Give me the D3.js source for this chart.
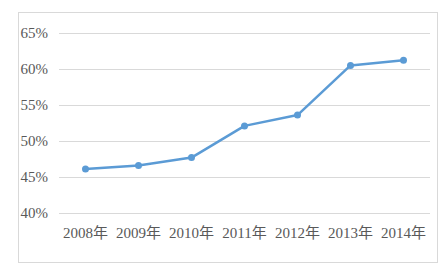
<!DOCTYPE html>
<html>
<head>
<meta charset="UTF-8">
<style>
  body { margin: 0; background: #fff; }
  svg text { font-family: "Liberation Serif", "Noto Sans CJK SC", serif; font-size: 15px; fill: #595959; }
</style>
</head>
<body>
<div id="chart"></div>
<script src="https://cdnjs.cloudflare.com/ajax/libs/d3/7.8.5/d3.min.js"></script>
<script>
const years = ['2008年', '2009年', '2010年', '2011年', '2012年', '2013年', '2014年'];
const rates = [46.1, 46.6, 47.7, 52.1, 53.6, 60.5, 61.2];
const yTicks = [40, 45, 50, 55, 60, 65];

const W = 446, H = 269;
const svg = d3.select('#chart').append('svg')
  .attr('width', W).attr('height', H);

// outer frame
svg.append('rect')
  .attr('x', 18.5).attr('y', 12.5)
  .attr('width', 419).attr('height', 250)
  .attr('fill', 'none').attr('stroke', '#d9d9d9');

const x = d3.scalePoint().domain(years).range([59, 430]).padding(0.5);
const y = d3.scaleLinear().domain([40, 65]).range([213, 33]);

// gridlines
svg.append('g').selectAll('line')
  .data(yTicks).enter().append('line')
  .attr('x1', 59).attr('x2', 430)
  .attr('y1', d => Math.round(y(d)) + 0.5).attr('y2', d => Math.round(y(d)) + 0.5)
  .attr('stroke', '#d9d9d9').attr('stroke-width', 1);

// y labels
svg.append('g').selectAll('text')
  .data(yTicks).enter().append('text')
  .attr('x', 48).attr('y', d => y(d))
  .attr('dy', '0.35em')
  .attr('text-anchor', 'end')
  .text(d => d + '%');

// x labels
svg.append('g').selectAll('text')
  .data(years).enter().append('text')
  .attr('x', d => x(d)).attr('y', 238)
  .attr('text-anchor', 'middle')
  .text(d => d);

const line = d3.line()
  .x((d, i) => x(years[i]))
  .y(d => y(d));

svg.append('path')
  .datum(rates)
  .attr('d', line)
  .attr('fill', 'none')
  .attr('stroke', '#5b9bd5')
  .attr('stroke-width', 2.5)
  .attr('stroke-linejoin', 'round');

svg.append('g').selectAll('circle')
  .data(rates).enter().append('circle')
  .attr('cx', (d, i) => x(years[i]))
  .attr('cy', d => y(d))
  .attr('r', 3.5)
  .attr('fill', '#5b9bd5');
</script>
</body>
</html>
